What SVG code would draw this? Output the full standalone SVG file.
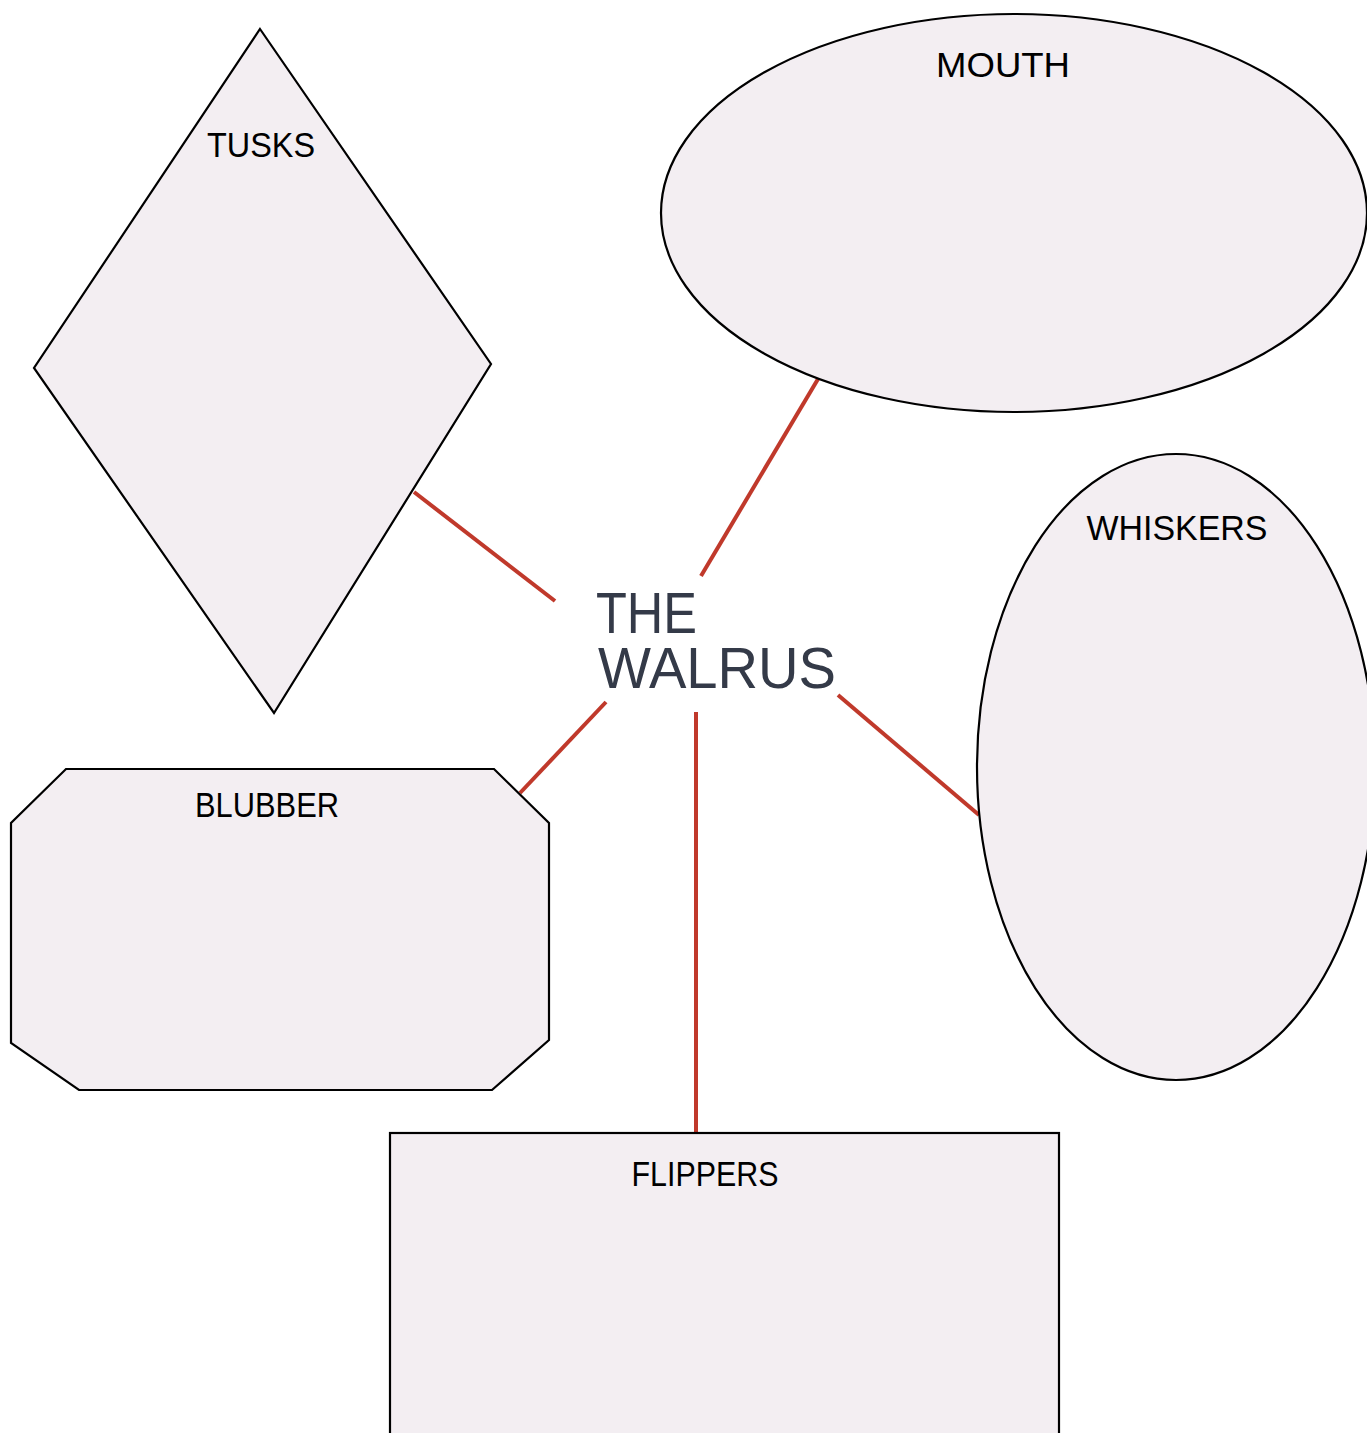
<svg xmlns="http://www.w3.org/2000/svg" width="1367" height="1433" viewBox="0 0 1367 1433">
<style>
.shape{fill:#f3eef2;stroke:#000;stroke-width:2.2}
.lbl{font-family:"Liberation Sans",Arial,sans-serif;font-size:35px;fill:#000;text-anchor:middle}
.title{font-family:"Liberation Sans",Arial,sans-serif;font-size:58px;fill:#343a48}
.conn{stroke:#c0392b;stroke-width:4;fill:none}
</style>
<rect width="1367" height="1433" fill="#fff"/>
<g id="connectors">
<line class="conn" x1="414" y1="492" x2="555" y2="601"/>
<line class="conn" x1="818" y1="379" x2="701" y2="576"/>
<line class="conn" x1="606" y1="702" x2="520" y2="793"/>
<line class="conn" x1="696" y1="712" x2="696" y2="1133"/>
<line class="conn" x1="838" y1="695" x2="979" y2="815"/>
</g>
<g id="tusks">
<polygon class="shape" points="260,29 491,364 274,713 34,368"/>
<text class="lbl" x="261" y="157" textLength="108" lengthAdjust="spacingAndGlyphs">TUSKS</text>
</g>
<g id="mouth">
<ellipse class="shape" cx="1014" cy="213" rx="353" ry="199"/>
<text class="lbl" x="1003" y="77" textLength="134" lengthAdjust="spacingAndGlyphs">MOUTH</text>
</g>
<g id="whiskers">
<ellipse class="shape" cx="1176" cy="767" rx="199" ry="313"/>
<text class="lbl" x="1177" y="540" textLength="181" lengthAdjust="spacingAndGlyphs">WHISKERS</text>
</g>
<g id="blubber">
<polygon class="shape" points="66,769 494,769 549,823 549,1040 492,1090 79,1090 11,1043 11,823"/>
<text class="lbl" x="267" y="817" textLength="144" lengthAdjust="spacingAndGlyphs">BLUBBER</text>
</g>
<g id="flippers">
<rect class="shape" x="390" y="1133" width="669" height="320"/>
<text class="lbl" x="705" y="1186" textLength="147" lengthAdjust="spacingAndGlyphs">FLIPPERS</text>
</g>
<g id="title">
<text class="title" x="596" y="633" textLength="101" lengthAdjust="spacingAndGlyphs">THE</text>
<text class="title" x="598" y="688" textLength="238" lengthAdjust="spacingAndGlyphs">WALRUS</text>
</g>
</svg>
